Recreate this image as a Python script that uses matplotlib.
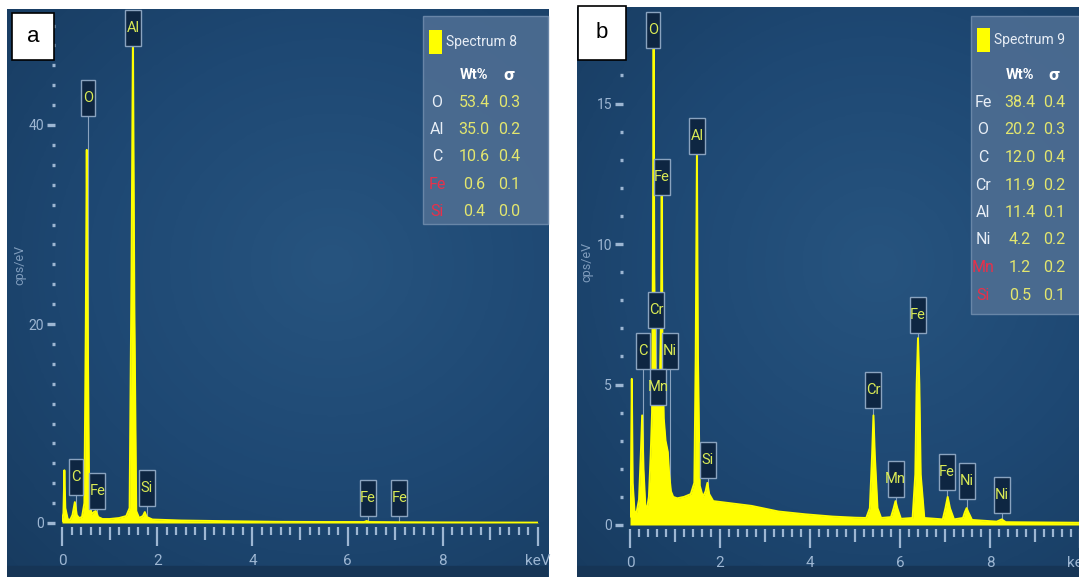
import numpy as np
import matplotlib
matplotlib.use('Agg')
import matplotlib.pyplot as plt
import matplotlib.transforms as transforms
from matplotlib.patches import Rectangle
from matplotlib.colors import LinearSegmentedColormap

# EDS spectra (keV, cps/eV)
spec_a_kev = [0.00, 0.03, 0.05, 0.07, 0.12, 0.17, 0.22, 0.27, 0.31, 0.36, 0.42, 0.47, 0.50, 0.52, 0.54,
              0.57, 0.62, 0.67, 0.71, 0.76, 0.85, 1.00, 1.20, 1.35, 1.42, 1.46, 1.49, 1.52, 1.56, 1.62,
              1.70, 1.74, 1.78, 1.90, 2.50, 3.50, 4.50, 5.50, 6.35, 6.40, 6.45, 7.00, 8.00, 10.0]
spec_a_cps = [0.2, 1.0, 5.3, 1.5, 0.4, 0.3, 0.8, 2.1, 0.8, 0.5, 0.6, 2.0, 20.0, 37.5, 20.0,
              2.5, 0.9, 1.1, 1.2, 0.6, 0.4, 0.4, 0.5, 0.7, 1.5, 25.0, 49.0, 22.0, 1.2, 0.5,
              0.7, 1.1, 0.6, 0.35, 0.25, 0.18, 0.12, 0.10, 0.10, 0.2, 0.10, 0.08, 0.06, 0.04]

spec_b_kev = [0.00, 0.02, 0.04, 0.06, 0.10, 0.14, 0.20, 0.24, 0.27, 0.30, 0.34, 0.38, 0.42, 0.46, 0.49,
              0.51, 0.525, 0.54, 0.57, 0.62, 0.66, 0.69, 0.705, 0.72, 0.75, 0.79, 0.84, 0.87, 0.91, 0.96,
              1.05, 1.20, 1.35, 1.43, 1.46, 1.487, 1.51, 1.55, 1.62, 1.68, 1.72, 1.76, 1.85, 2.20, 2.70,
              3.30, 3.90, 4.50, 5.00, 5.25, 5.33, 5.38, 5.41, 5.44, 5.50, 5.58, 5.80, 5.86, 5.90, 5.94,
              6.02, 6.28, 6.34, 6.37, 6.40, 6.43, 6.46, 6.54, 6.95, 7.01, 7.06, 7.11, 7.20, 7.40, 7.44,
              7.48, 7.52, 7.60, 8.15, 8.26, 8.35, 10.0]
spec_b_cps = [0.3, 1.5, 5.2, 1.5, 0.5, 0.4, 0.9, 2.5, 3.9, 2.0, 0.7, 0.6, 1.0, 2.5, 4.0,
              10.0, 17.5, 9.0, 4.3, 4.4, 4.6, 7.5, 11.9, 6.5, 3.8, 3.0, 2.6, 1.8, 1.2, 1.0,
              0.95, 1.0, 1.1, 1.5, 6.0, 13.2, 6.0, 1.4, 1.0, 1.2, 1.5, 1.1, 0.85, 0.78, 0.68,
              0.48, 0.38, 0.30, 0.26, 0.25, 0.6, 2.5, 3.9, 2.5, 0.6, 0.25, 0.28, 0.6, 0.85, 0.6,
              0.22, 0.25, 1.8, 5.0, 6.65, 5.0, 1.8, 0.25, 0.2, 0.6, 1.0, 0.6, 0.2, 0.25, 0.45,
              0.6, 0.45, 0.18, 0.12, 0.2, 0.1, 0.08]

# element markers: name, energy (keV), label height (cps/eV)
mark_a_el = ['Al', 'O', 'C', 'Fe', 'Si', 'Fe', 'Fe']
mark_a_kev = [1.50, 0.55, 0.29, 0.74, 1.78, 6.42, 7.09]
mark_a_y = [49.7, 42.7, 4.6, 3.2, 3.5, 2.5, 2.5]

mark_b_el = ['O', 'Fe', 'Al', 'Cr', 'C', 'Ni', 'Mn', 'Si', 'Cr', 'Mn', 'Fe', 'Fe', 'Ni', 'Ni']
mark_b_kev = [0.52, 0.71, 1.49, 0.58, 0.28, 0.88, 0.62, 1.73, 5.40, 5.90, 6.39, 7.04, 7.48, 8.26]
mark_b_y = [17.6, 12.4, 13.85, 7.65, 6.2, 6.2, 4.9, 2.3, 4.8, 1.64, 7.47, 1.9, 1.55, 1.07]

# quantification tables
comp_a_el = ['O', 'Al', 'C', 'Fe', 'Si']
comp_a_wt = ['53.4', '35.0', '10.6', '0.6', '0.4']
comp_a_sig = ['0.3', '0.2', '0.4', '0.1', '0.0']
comp_a_red = [False, False, False, True, True]

comp_b_el = ['Fe', 'O', 'C', 'Cr', 'Al', 'Ni', 'Mn', 'Si']
comp_b_wt = ['38.4', '20.2', '12.0', '11.9', '11.4', '4.2', '1.2', '0.5']
comp_b_sig = ['0.4', '0.3', '0.4', '0.2', '0.1', '0.2', '0.2', '0.1']
comp_b_red = [False, False, False, False, False, False, True, True]

W, H = 1079, 577
NARROW = 'Roboto'
TICK_C = '#9db6d2'
YEL = '#ffff00'

fig = plt.figure(figsize=(W / 100, H / 100), dpi=100)
fig.patch.set_facecolor('white')


def px_rect(x0, y0, x1, y1):
    return [x0 / W, 1 - y1 / H, (x1 - x0) / W, (y1 - y0) / H]


bg_cmap = LinearSegmentedColormap.from_list('bg', ['#173a5e', '#1e4873', '#27547f'])


def background(x0, y0, x1, y1):
    bg = fig.add_axes(px_rect(x0, y0, x1, y1))
    gx, gy = np.meshgrid(np.linspace(0, 1, 200), np.linspace(0, 1, 200))
    r = np.sqrt(((gx - 0.6) / 0.9) ** 2 + ((gy - 0.45) / 0.8) ** 2)
    bg.imshow(1 - np.clip(r, 0, 1), cmap=bg_cmap, aspect='auto', extent=(0, 1, 0, 1),
              vmin=0, vmax=1, interpolation='bilinear')
    bg.add_patch(Rectangle((0, 0), 1, 11 / (y1 - y0), color='#163556', zorder=2))
    bg.axis('off')
    return bg


def spectrum_axes(rect, ytop, ymajor, yminor, kev, cps):
    ax = fig.add_axes(rect)
    ax.patch.set_alpha(0)
    for s in ax.spines.values():
        s.set_visible(False)
    ax.spines['left'].set_position(('outward', 5))
    ax.spines['bottom'].set_position(('outward', 3))
    ax.set_xlim(0, 10)
    ax.set_ylim(0, ytop)
    ax.fill_between(kev, cps, 0, color=YEL, lw=0, zorder=3)
    ax.plot(kev, cps, color=YEL, lw=1.4, zorder=3)

    ax.set_xticks(np.arange(0, 11, 1))
    ax.set_xticklabels(['0', '', '2', '', '4', '', '6', '', '8', '', 'keV'])
    ax.set_xticks(np.arange(0, 10.01, 0.2), minor=True)
    ax.tick_params(axis='x', which='major', length=14, width=1.6, color=TICK_C, pad=5,
                   labelcolor=TICK_C, labelsize=11)
    ax.tick_params(axis='x', which='minor', length=6, width=1.6, color=TICK_C)
    for i, t in enumerate(ax.xaxis.get_major_ticks()):
        if i % 2 == 1:
            t.tick1line.set_markersize(9)
    ax.set_yticks(ymajor)
    ax.set_yticks(yminor, minor=True)
    ax.tick_params(axis='y', which='major', length=6, width=2.4, color=TICK_C, pad=2,
                   labelcolor=TICK_C, labelsize=10)
    ax.tick_params(axis='y', which='minor', length=2.2, width=2.4, color=TICK_C)
    for lab in ax.get_xticklabels() + ax.get_yticklabels():
        lab.set_family(NARROW)
    return ax


def markers(ax, names, kev, ys):
    for name, x, y in zip(names, kev, ys):
        w = 0.16 if len(name) > 1 else 0.14
        trans = fig.dpi_scale_trans + transforms.ScaledTranslation(x, y, ax.transData)
        ax.plot([x, x], [0, y], color='#8aa3bf', lw=0.8, zorder=2)
        ax.add_patch(Rectangle((-w / 2, -0.18), w, 0.36, transform=trans, fc='#0e2642',
                               ec='#8aa3bf', lw=1.0, zorder=5, clip_on=False))
        ax.text(x, y, name, ha='center', va='center', color='#d9ea55', fontsize=10.5,
                family=NARROW, zorder=6, clip_on=False)


def table(x0, y0, x1, y1, title, els, wts, sigs, reds, xel, xwt, xsig, ytitle, yhead, ystep):
    fig.patches.append(Rectangle((x0 / W, 1 - y1 / H), (x1 - x0) / W, (y1 - y0) / H,
                                 transform=fig.transFigure, fc='#4d6d92', ec='#6d8aab',
                                 lw=1, alpha=0.92, zorder=10))
    fig.patches.append(Rectangle(((x0 + 6) / W, 1 - (ytitle + 12) / H), 13 / W, 24 / H,
                                 transform=fig.transFigure, fc=YEL, ec='none', zorder=11))
    fig.text((x0 + 23) / W, 1 - ytitle / H, title, color='#e8eef6', fontsize=10,
             family=NARROW, va='center', zorder=12)
    fig.text(xwt / W, 1 - yhead / H, 'Wt%', color='white', fontsize=10.5, weight='bold',
             family=NARROW, va='center', ha='center', zorder=12)
    fig.text(xsig / W, 1 - yhead / H, 'σ', color='white', fontsize=10.5, weight='bold',
             va='center', ha='center', zorder=12)
    for i, (e, wv, sv, red) in enumerate(zip(els, wts, sigs, reds)):
        yy = 1 - (yhead + ystep * (i + 1)) / H
        fig.text(xel / W, yy, e, color='#e8304a' if red else '#e8eef6', fontsize=11.5,
                 family=NARROW, va='center', ha='center', zorder=12)
        fig.text(xwt / W, yy, wv, color='#e3e66e', fontsize=11.5, family=NARROW,
                 va='center', ha='center', zorder=12)
        fig.text(xsig / W, yy, sv, color='#e3e66e', fontsize=11.5, family=NARROW,
                 va='center', ha='center', zorder=12)


def panel_letter(x0, y0, x1, y1, letter):
    fig.patches.append(Rectangle((x0 / W, 1 - y1 / H), (x1 - x0) / W, (y1 - y0) / H,
                                 transform=fig.transFigure, fc='white', ec='black',
                                 lw=1.2, zorder=20))
    fig.text((x0 + x1) / 2 / W, 1 - (y0 + y1) / 2 / H, letter, fontsize=16,
             family='Liberation Sans', ha='center', va='center', zorder=21)


# panel a
background(7, 9, 548, 577)
ax_a = spectrum_axes(px_rect(62, 9, 538, 523), (523 - 9) / 9.95, [0, 20, 40],
                     np.arange(0, 52, 2), spec_a_kev, spec_a_cps)
markers(ax_a, mark_a_el, mark_a_kev, mark_a_y)
fig.text(20 / W, 1 - 265 / H, 'cps/eV', rotation=90, color='#7f9cbc', fontsize=9,
         family=NARROW, ha='center', va='center')
table(423, 16, 548, 224, 'Spectrum 8', comp_a_el, comp_a_wt, comp_a_sig, comp_a_red,
      437, 474, 509, 42, 75, 27.3)
panel_letter(12, 13, 54, 60, 'a')

# panel b
background(577, 7, 1079, 577)
ax_b = spectrum_axes(px_rect(630, 8, 1080, 525), (525 - 8) / 28.1, [0, 5, 10, 15],
                     np.arange(0, 19, 1), spec_b_kev, spec_b_cps)
markers(ax_b, mark_b_el, mark_b_kev, mark_b_y)
fig.text(587 / W, 1 - 262 / H, 'cps/eV', rotation=90, color='#7f9cbc', fontsize=9,
         family=NARROW, ha='center', va='center')
table(971, 16, 1079, 314, 'Spectrum 9', comp_b_el, comp_b_wt, comp_b_sig, comp_b_red,
      983, 1020, 1054, 40, 75, 27.5)
panel_letter(578, 6, 626, 60, 'b')

fig.savefig('out.png', dpi=100, facecolor='white')
